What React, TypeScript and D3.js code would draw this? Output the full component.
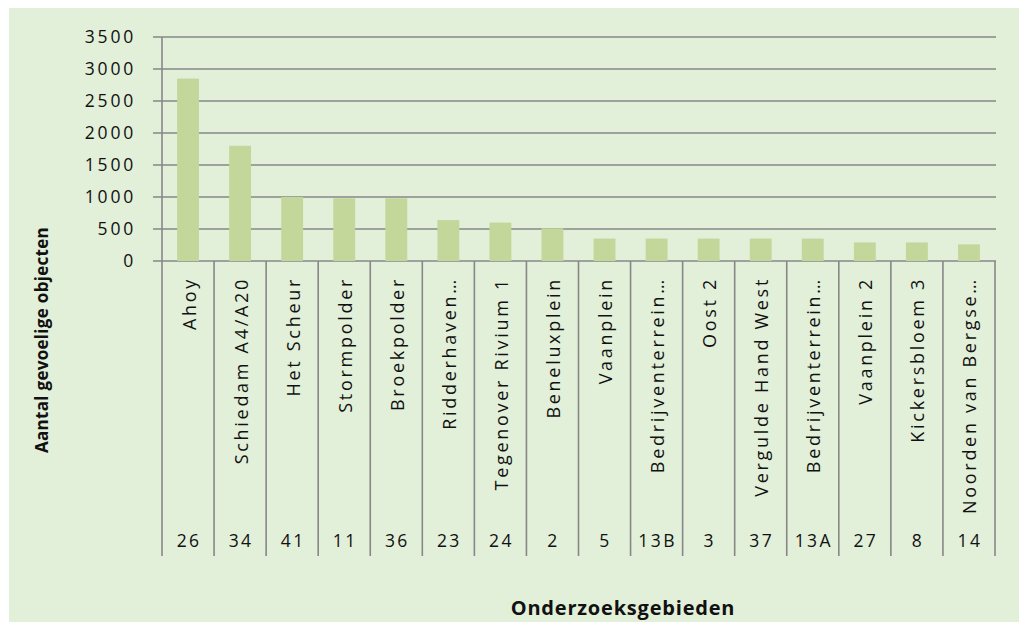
import React from "react";
import * as d3 from "d3";

const names = [
  "Ahoy",
  "Schiedam A4/A20",
  "Het Scheur",
  "Stormpolder",
  "Broekpolder",
  "Ridderhaven…",
  "Tegenover Rivium 1",
  "Beneluxplein",
  "Vaanplein",
  "Bedrijventerrein…",
  "Oost 2",
  "Vergulde Hand West",
  "Bedrijventerrein…",
  "Vaanplein 2",
  "Kickersbloem 3",
  "Noorden van Bergse…",
];
const codes = ["26", "34", "41", "11", "36", "23", "24", "2", "5", "13B", "3", "37", "13A", "27", "8", "14"];
const values = [2850, 1800, 1000, 980, 980, 640, 600, 510, 350, 350, 350, 350, 350, 290, 290, 260];
const yTicks = [0, 500, 1000, 1500, 2000, 2500, 3000, 3500];

const W = 1019;
const H = 622;
const left = 162;
const right = 995;
const top = 37;
const zeroY = 261;
const sepBottom = 556;

export default function App() {
  const keys = names.map((_, i) => String(i));
  const x = d3.scaleBand<string>().domain(keys).range([left, right]).padding(0);
  const y = d3.scaleLinear().domain([0, 3500]).range([zeroY, top]);
  const bw = x.bandwidth() * 0.42;
  const grid = "#878787";
  const txt = "#111111";
  const font = "'Open Sans', sans-serif";

  return (
    <svg
      width={W}
      height={H}
      style={{ position: "absolute", left: 0, top: 0, display: "block" }}
    >
      <rect x={9} y={8} width={W - 9} height={H - 8} fill="#e2efd9" />
      {yTicks.map((t) => (
        <g key={t}>
          <line x1={153} x2={right + 1} y1={y(t)} y2={y(t)} stroke={grid} strokeWidth={1.6} />
          <text
            x={136}
            y={y(t)}
            dy="0.36em"
            textAnchor="end"
            fontFamily={font}
            fontSize={17.5}
            letterSpacing={2.8}
            fill={txt}
          >
            {t}
          </text>
        </g>
      ))}
      {/* vertical axis line */}
      <line x1={left} x2={left} y1={top} y2={sepBottom} stroke={grid} strokeWidth={1.6} />
      {/* separators */}
      {keys.map((k) => (
        <line
          key={"s" + k}
          x1={(x(k) as number) + x.bandwidth()}
          x2={(x(k) as number) + x.bandwidth()}
          y1={zeroY}
          y2={sepBottom}
          stroke={grid}
          strokeWidth={1.6}
        />
      ))}
      {values.map((v, i) => {
        const cx = (x(String(i)) as number) + x.bandwidth() / 2;
        return (
          <rect
            key={"b" + i}
            x={cx - bw / 2}
            y={y(v)}
            width={bw}
            height={zeroY - y(v)}
            fill="#c4d79b"
          />
        );
      })}
      {names.map((n, i) => {
        const cx = (x(String(i)) as number) + x.bandwidth() / 2;
        return (
          <text
            key={"n" + i}
            transform={`translate(${cx + 1},277) rotate(-90)`}
            dy="0.36em"
            textAnchor="end"
            fontFamily={font}
            fontSize={18}
            letterSpacing={2.7}
            fill={txt}
          >
            {n}
          </text>
        );
      })}
      {codes.map((c, i) => {
        const cx = (x(String(i)) as number) + x.bandwidth() / 2;
        return (
          <text
            key={"c" + i}
            x={cx + 1}
            y={541}
            dy="0.36em"
            textAnchor="middle"
            fontFamily={font}
            fontSize={17.5}
            letterSpacing={2.4}
            fill={txt}
          >
            {c}
          </text>
        );
      })}
      <text
        x={623}
        y={615}
        textAnchor="middle"
        fontFamily={font}
        fontWeight="bold"
        fontSize={20}
        letterSpacing={0.8}
        fill={txt}
      >
        Onderzoeksgebieden
      </text>
      <text
        transform="translate(42,340) rotate(-90)"
        dy="0.36em"
        textAnchor="middle"
        fontFamily={font}
        fontWeight="bold"
        fontSize={17}
        letterSpacing={0.3}
        fill={txt}
      >
        Aantal gevoelige objecten
      </text>
    </svg>
  );
}
